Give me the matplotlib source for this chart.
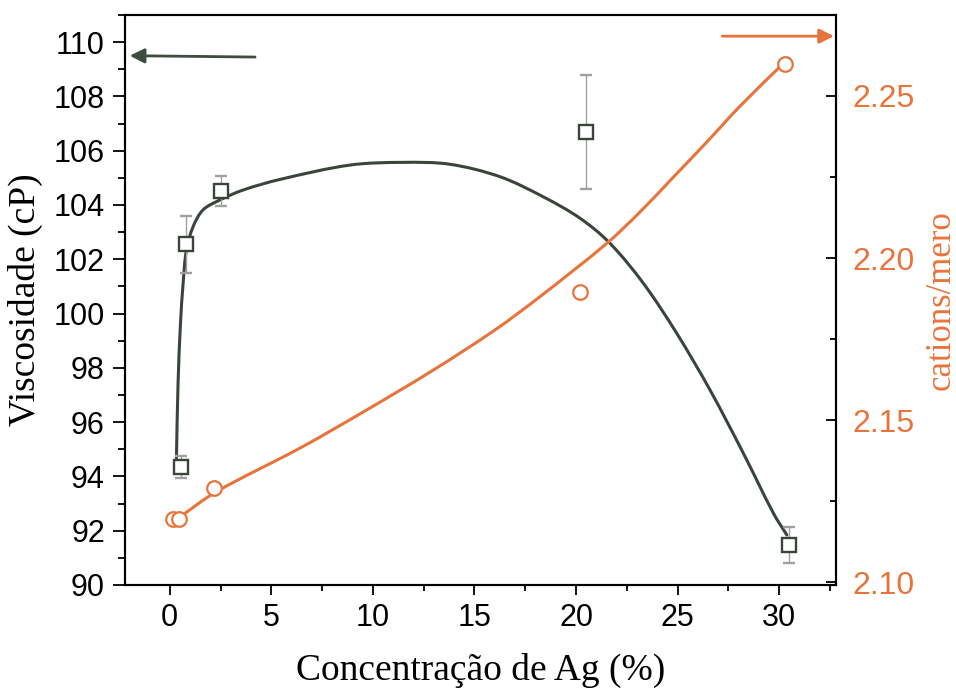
import matplotlib
matplotlib.use("Agg")
import numpy as np
import matplotlib.pyplot as plt
from matplotlib.ticker import MultipleLocator, FormatStrFormatter
from matplotlib.path import Path
from matplotlib.patches import PathPatch

# viscosity measurements (left axis)
ag_visc = [0.55, 0.8, 2.5, 20.5, 30.5]
visc = [94.35, 102.55, 104.5, 106.7, 91.47]
visc_err = [0.4, 1.05, 0.55, 2.1, 0.65]

# cations/mero (right axis)
ag_cat = [0.15, 0.45, 2.2, 20.2, 30.3]
cat = [2.1195, 2.1195, 2.129, 2.1895, 2.260]

# fitted curves
fit_visc_x = [0.33, 0.41, 0.53, 0.66, 0.82, 1.15, 1.64, 2.46, 3.61, 5.42,
              8.87, 11.49, 13.79, 16.26, 18.39, 20.20, 21.67, 23.32, 24.96,
              26.60, 28.24, 29.72, 30.38]
fit_visc_y = [94.67, 97.44, 99.65, 101.12, 102.34, 103.20, 103.82, 104.18,
              104.55, 104.94, 105.47, 105.57, 105.50, 105.04, 104.30,
              103.51, 102.59, 101.11, 99.27, 97.18, 94.85, 92.64, 91.84]
fit_cat_x = [0.41, 2.30, 6.40, 9.69, 12.97, 16.01, 18.23, 21.51, 23.15, 24.80,
             26.44, 28.08, 30.2]
fit_cat_y = [2.1197, 2.1279, 2.1413, 2.1531, 2.1654, 2.1778, 2.1881, 2.2045,
             2.2142, 2.2250, 2.2358, 2.2469, 2.2600]

dark = '#3a443a'
orange = '#e8743b'


def smooth_line(ax, xs, ys, **kw):
    # chordal cubic hermite through the read points, as bezier in display space
    p = ax.transData.transform(np.column_stack([xs, ys]))
    t = np.concatenate([[0], np.cumsum(np.hypot(*np.diff(p, axis=0).T))])
    m = np.zeros_like(p)
    m[1:-1] = (p[2:] - p[:-2]) / (t[2:] - t[:-2])[:, None]
    m[0] = (p[1] - p[0]) / (t[1] - t[0])
    m[-1] = (p[-1] - p[-2]) / (t[-1] - t[-2])
    verts = [tuple(p[0])]
    codes = [Path.MOVETO]
    for i in range(len(p) - 1):
        h = t[i + 1] - t[i]
        verts += [tuple(p[i] + m[i] * h / 3), tuple(p[i + 1] - m[i + 1] * h / 3),
                  tuple(p[i + 1])]
        codes += [Path.CURVE4] * 3
    ax.add_patch(PathPatch(Path(verts, codes), fill=False, transform=None,
                           capstyle='round', **kw))


fig = plt.figure(figsize=(9.56, 6.9), dpi=100)
ax1 = fig.add_axes([0.1308, 0.1522, 0.7437, 0.8261])
ax2 = ax1.twinx()

ax1.set_xlim(-2.2, 32.8)
ax1.set_ylim(90, 111)
ax2.set_ylim(2.0991, 2.275)

smooth_line(ax1, fit_visc_x, fit_visc_y, edgecolor=dark, lw=2.2, zorder=2)
ax1.errorbar(ag_visc, visc, yerr=visc_err, fmt='s', ms=10, mfc='white', mec=dark,
             mew=1.7, ecolor='#a0a0a0', elinewidth=1, capsize=4.5, capthick=1,
             zorder=3)

smooth_line(ax2, fit_cat_x, fit_cat_y, edgecolor=orange, lw=2.2, zorder=2)
ax2.plot(ag_cat, cat, 'o', ms=10.5, mfc='white', mec=orange, mew=1.6, zorder=3)

ax1.xaxis.set_major_locator(MultipleLocator(5))
ax1.xaxis.set_minor_locator(MultipleLocator(2.5))
ax1.yaxis.set_major_locator(MultipleLocator(2))
ax1.yaxis.set_minor_locator(MultipleLocator(1))
ax2.yaxis.set_major_locator(MultipleLocator(0.05))
ax2.yaxis.set_minor_locator(MultipleLocator(0.025))
ax2.yaxis.set_major_formatter(FormatStrFormatter('%.2f'))

ax1.tick_params(axis='x', which='major', direction='out', length=7, width=1.3,
                labelsize=22, pad=6)
ax1.tick_params(axis='x', which='minor', direction='out', length=4, width=1.3)
ax1.tick_params(axis='y', which='major', direction='out', length=8.5, width=1.3,
                labelsize=22, pad=6)
ax1.tick_params(axis='y', which='minor', direction='out', length=5, width=1.3)
ax1.tick_params(which='both', top=False, right=False)
ax2.tick_params(which='both', top=False, bottom=False, labeltop=False,
                labelbottom=False)
ax2.tick_params(axis='y', which='major', direction='in', length=7, width=1.3,
                labelsize=23, pad=12, labelcolor=orange)
ax2.tick_params(axis='y', which='minor', direction='in', length=4, width=1.3)

for lab in ax1.get_xticklabels() + ax1.get_yticklabels() + ax2.get_yticklabels():
    lab.set_family('Liberation Sans')

for ax in (ax1, ax2):
    for s in ax.spines.values():
        s.set_linewidth(1.5)

ax1.set_xlabel('Concentração de Ag (%)', family='Liberation Serif', fontsize=27,
               labelpad=14)
ax1.set_ylabel('Viscosidade (cP)', family='Liberation Serif', fontsize=27,
               labelpad=8)
ax2.set_ylabel('cations/mero', family='Liberation Serif', fontsize=25,
               color=orange, labelpad=7)

ax1.annotate('', xy=(-1.97, 109.5), xytext=(4.2, 109.45),
             arrowprops=dict(arrowstyle='-|>', color='#3f4d41', lw=2,
                             mutation_scale=22, shrinkA=0, shrinkB=0))
ax1.annotate('', xy=(32.7, 110.22), xytext=(27.2, 110.22),
             arrowprops=dict(arrowstyle='-|>', color=orange, lw=2,
                             mutation_scale=22, shrinkA=0, shrinkB=0))

fig.savefig('out.png', dpi=100)
